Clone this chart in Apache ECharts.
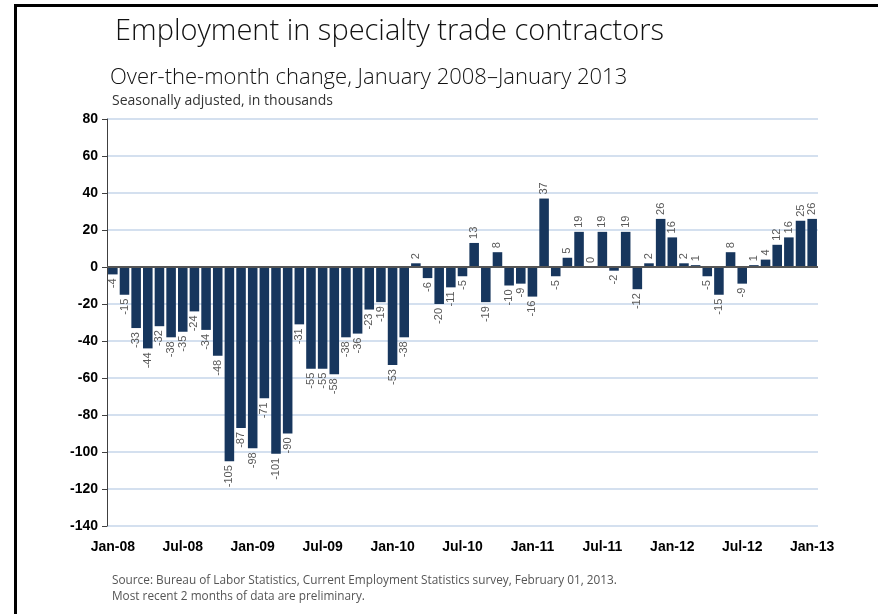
<!DOCTYPE html>
<html>
<head>
<meta charset="utf-8">
<script src="https://cdn.jsdelivr.net/npm/echarts@6/dist/echarts.min.js"></script>
<style>
  html, body { margin: 0; padding: 0; background: #fff; }
  #frame { position: absolute; left: 14px; top: 4px; width: 870px; height: 620px;
           border-top: 3px solid #000; border-left: 3px solid #000; }
  #chart { position: absolute; left: 0; top: 0; width: 878px; height: 614px; }
</style>
</head>
<body>
<div id="frame"></div>
<div id="chart"></div>
<script>
const years = ["08", "09", "10", "11", "12", "13"];
const monthNames = ["Jan", "Feb", "Mar", "Apr", "May", "Jun", "Jul", "Aug", "Sep", "Oct", "Nov", "Dec"];
const months = [];
years.forEach(function (y) {
  monthNames.forEach(function (m) {
    if (months.length < 61) months.push(m + "-" + y);
  });
});
// over-the-month change, thousands
const changes = [
  -4, -15, -33, -44, -32, -38, -35, -24, -34, -48, -105, -87,
  -98, -71, -101, -90, -31, -55, -55, -58, -38, -36, -23, -19,
  -53, -38, 2, -6, -20, -11, -5, 13, -19, 8, -10, -9,
  -16, 37, -5, 5, 19, 0, 19, -2, 19, -12, 2, 26,
  16, 2, 1, -5, -15, 8, -9, 1, 4, 12, 16, 25,
  26
];
const yTicks = { min: -140, max: 80, step: 20 };

var chart = echarts.init(document.getElementById('chart'));
var barData = changes.map(function (v) {
  return {
    value: v,
    label: v < 0
      ? { position: 'bottom', align: 'right', verticalAlign: 'middle', distance: 4 }
      : { position: 'top', align: 'left', verticalAlign: 'middle', distance: 4 }
  };
});

chart.setOption({
  animation: false,
  title: [
    { text: 'Employment in specialty trade contractors', left: 115, top: 17, padding: 0,
      textStyle: { fontFamily: 'Open Sans', fontWeight: 300, fontSize: 29, color: '#111' } },
    { text: 'Over-the-month change, January 2008\u2013January 2013', left: 110, top: 67, padding: 0,
      textStyle: { fontFamily: 'Open Sans', fontWeight: 300, fontSize: 22, color: '#111' } },
    { text: 'Seasonally adjusted, in thousands', left: 112, top: 94, padding: 0,
      textStyle: { fontFamily: 'Open Sans', fontWeight: 'normal', fontSize: 14, color: '#333' } },
    { text: 'Source: Bureau of Labor Statistics, Current Employment Statistics survey, February 01, 2013.\nMost recent 2 months of data are preliminary.',
      left: 112, top: 573, padding: 0,
      textStyle: { fontFamily: 'Open Sans', fontWeight: 'normal', fontSize: 11.8, color: '#555', lineHeight: 16 } }
  ],
  grid: { left: 107, right: 60, top: 119, bottom: 88 },
  xAxis: {
    type: 'category',
    data: months,
    boundaryGap: true,
    axisLine: { show: false },
    axisTick: { show: false },
    axisLabel: {
      interval: 5, margin: 14,
      fontFamily: 'Liberation Sans', fontWeight: 'bold', fontSize: 14, color: '#000'
    }
  },
  yAxis: {
    type: 'value',
    min: yTicks.min, max: yTicks.max, interval: yTicks.step,
    axisLine: { show: true, lineStyle: { color: '#404040', width: 1 } },
    axisTick: { show: true, length: 5, lineStyle: { color: '#404040' } },
    axisLabel: { fontFamily: 'Liberation Sans', fontWeight: 'bold', fontSize: 14, color: '#000', margin: 9 },
    splitLine: { lineStyle: { color: '#c6d6ea', width: 1.5 } }
  },
  series: [{
    type: 'bar',
    data: barData,
    barCategoryGap: '18%',
    itemStyle: { color: '#17365d' },
    label: {
      show: true, rotate: 90,
      fontFamily: 'Liberation Sans', fontSize: 11, color: '#595959'
    },
    markLine: {
      silent: true, symbol: 'none',
      label: { show: false },
      lineStyle: { color: '#555', type: 'solid', width: 2 },
      data: [{ yAxis: 0 }]
    }
  }]
});
</script>
</body>
</html>
